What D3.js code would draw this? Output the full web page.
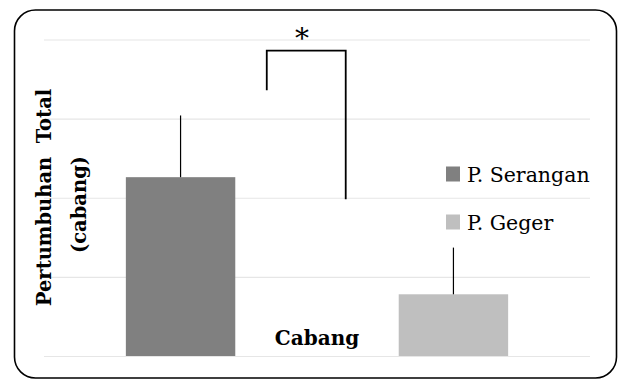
<!DOCTYPE html>
<html>
<head>
<meta charset="utf-8">
<script src="https://cdn.jsdelivr.net/npm/d3@7"></script>
<style>
  html, body { margin: 0; padding: 0; background: #fff; }
  svg { display: block; }
  text { font-family: "DejaVu Serif", serif; fill: #000; }
</style>
</head>
<body>
<svg id="chart" width="619" height="381"></svg>
<script>
// Category and series
const category = "Cabang";
const seriesNames = ["P. Serangan", "P. Geger"];
const seriesMeans = [2.26, 0.78];
const seriesErrors = [0.78, 0.59];
const seriesColors = ["#808080", "#bfbfbf"];
const yTicks = [0, 1, 2, 3, 4];

// Significance bracket (x as fraction of plot width, y in data units)
const bracketPoints = [[0.408, 3.36], [0.408, 3.86], [0.5526, 3.86], [0.5526, 1.98]];
const bracketMark = "*";
const bracketMarkPos = [0.4725, 3.86];

const yTitleLines = ["Pertumbuhan  Total", "(cabang)"];

const W = 619, H = 381;
const plot = { left: 44, right: 590, top: 39.5, bottom: 356 };

const svg = d3.select("#chart");

// Rounded outer frame
svg.append("rect")
  .attr("x", 14.5).attr("y", 10)
  .attr("width", 602).attr("height", 368)
  .attr("rx", 21).attr("ry", 21)
  .attr("fill", "#fff")
  .attr("stroke", "#000")
  .attr("stroke-width", 1.6);

const y = d3.scaleLinear().domain([0, 4]).range([plot.bottom, plot.top]);
const x0 = d3.scaleBand().domain([category]).range([plot.left, plot.right]).padding(0);
const x1 = d3.scaleBand().domain(seriesNames).range([x0(category), x0(category) + x0.bandwidth()])
  .paddingInner(0.599).paddingOuter(0.30);
const xf = d3.scaleLinear().domain([0, 1]).range([plot.left, plot.right]);

// Horizontal gridlines via axis
const gridAxis = d3.axisLeft(y).tickValues(yTicks)
  .tickSize(-(plot.right - plot.left)).tickFormat("");
const grid = svg.append("g")
  .attr("transform", `translate(${plot.left},0)`)
  .call(gridAxis);
grid.select(".domain").remove();
grid.selectAll(".tick line").attr("stroke", "#e6e6e6").attr("stroke-width", 1.2);

const series = seriesNames.map((name, i) => ({
  name, mean: seriesMeans[i], err: seriesErrors[i], color: seriesColors[i]
}));

// Bars
svg.append("g").selectAll("rect")
  .data(series).join("rect")
  .attr("x", d => x1(d.name))
  .attr("y", d => y(d.mean))
  .attr("width", x1.bandwidth())
  .attr("height", d => y(0) - y(d.mean))
  .attr("fill", d => d.color);

// Plus-direction error bars, no caps
svg.append("g").selectAll("line")
  .data(series).join("line")
  .attr("x1", d => x1(d.name) + x1.bandwidth() / 2)
  .attr("x2", d => x1(d.name) + x1.bandwidth() / 2)
  .attr("y1", d => y(d.mean))
  .attr("y2", d => y(d.mean + d.err))
  .attr("stroke", "#000")
  .attr("stroke-width", 1.2);

// Significance bracket
const bracketLine = d3.line().x(d => xf(d[0])).y(d => y(d[1]));
svg.append("path")
  .attr("d", bracketLine(bracketPoints))
  .attr("fill", "none")
  .attr("stroke", "#000")
  .attr("stroke-width", 1.8);
svg.append("text")
  .attr("x", xf(bracketMarkPos[0]))
  .attr("y", y(bracketMarkPos[1]) - 3)
  .attr("text-anchor", "middle")
  .attr("font-size", 28)
  .text(bracketMark);

// Category label
svg.append("text")
  .attr("x", x0(category) + x0.bandwidth() / 2)
  .attr("y", 345)
  .attr("text-anchor", "middle")
  .attr("font-size", 20)
  .attr("font-weight", "bold")
  .text(category);

// Y axis title, two centred lines
const yTitleX = [51, 86.3];
const yTitleC = [197.5, 204.5];
yTitleLines.forEach((t, i) => {
  svg.append("text")
    .attr("transform", `translate(${yTitleX[i]},${yTitleC[i]}) rotate(-90)`)
    .attr("text-anchor", "middle")
    .attr("font-size", 19.5)
    .attr("font-weight", "bold")
    .style("white-space", "pre")
    .text(t);
});

// Legend
const legendY = [182, 230];
const legend = svg.append("g").selectAll("g")
  .data(series).join("g")
  .attr("transform", (d, i) => `translate(446,${legendY[i]})`);
legend.append("rect")
  .attr("x", 0).attr("y", -15.5)
  .attr("width", 14).attr("height", 15)
  .attr("fill", d => d.color);
legend.append("text")
  .attr("x", 21).attr("y", 0)
  .attr("font-size", 20.5)
  .text(d => d.name);
</script>
</body>
</html>
